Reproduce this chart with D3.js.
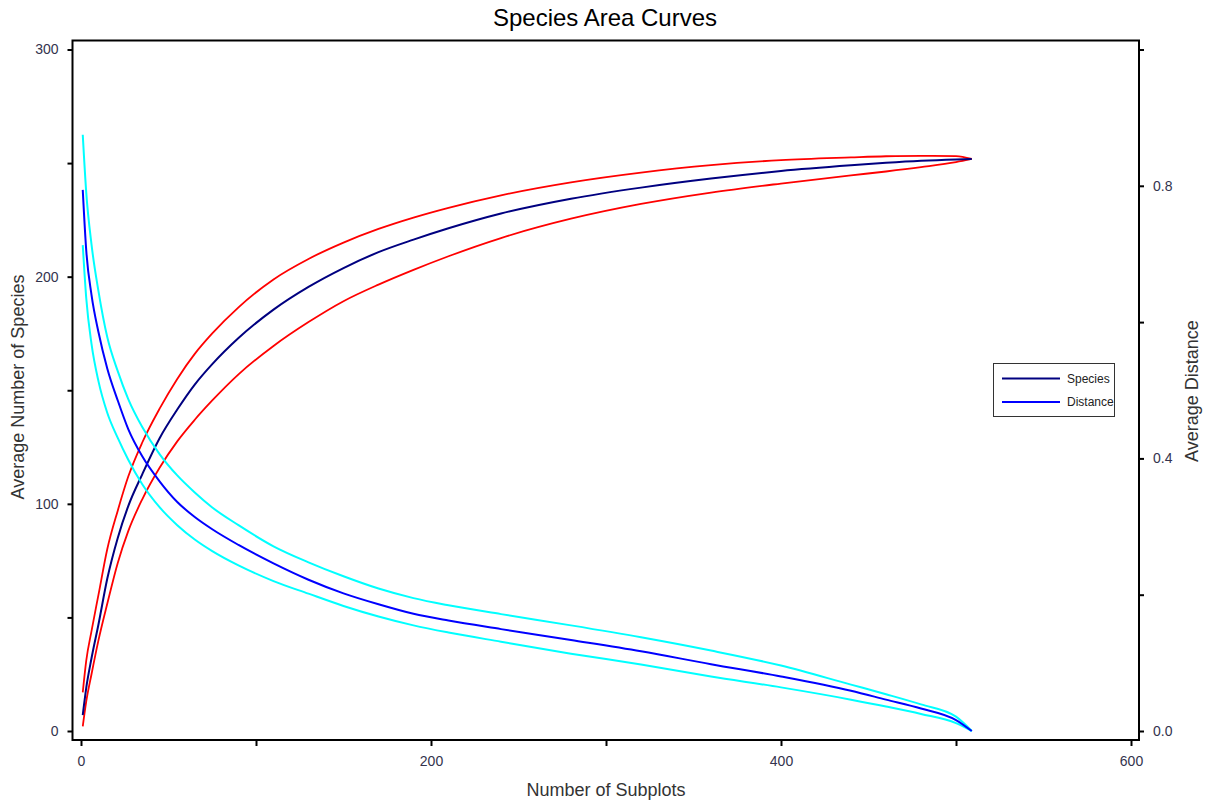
<!DOCTYPE html>
<html>
<head>
<meta charset="utf-8">
<script src="https://cdn.jsdelivr.net/npm/d3@7"></script>
<style>
  html, body { margin: 0; padding: 0; background: #fff; }
  svg { display: block; font-family: "Liberation Sans", Arial, sans-serif; }
  .tick text { fill: #33334d; font-size: 14px; }
  .axis-lbl { fill: #333; font-size: 18px; }
</style>
</head>
<body>
<svg id="chart" width="1209" height="801"></svg>
<script>
// ── Species area curves: mean +/- bounds, species (left axis) and distance (right axis)
const subplots = [1, 3, 6, 10, 15, 21, 27, 35, 45, 55, 65, 75, 90, 110, 130, 150, 170, 190, 210,
                  240, 280, 320, 360, 400, 440, 460, 480, 500, 509];

const speciesMean  = [7, 19, 32, 47, 67, 85, 99, 113, 129, 141.5, 152.5, 161.5, 173, 185.5, 195.5, 203.8,
                      210.8, 216.3, 221.3, 227.8, 234.3, 239.2, 243.2, 246.5, 249, 250.1, 251, 251.6, 251.8];
const speciesUpper = [17, 31, 44, 60, 80, 97, 112, 127, 142, 155, 166, 175, 186.5, 198.8, 207.8, 215,
                      221, 226, 230.3, 235.8, 241.5, 245.8, 249.1, 251.3, 252.5, 253, 253.2, 253.1, 251.8];
const speciesLower = [2, 13, 25, 40, 56, 74, 88, 102, 116, 127.5, 137, 145.5, 157, 169.5, 180, 189.2,
                      196.5, 203, 209, 217, 225.5, 232, 237, 241, 244.6, 246.3, 248.2, 250.4, 251.8];

const distMean  = [0.794, 0.705, 0.640, 0.585, 0.532, 0.485, 0.443, 0.403, 0.366, 0.336, 0.314, 0.296,
                   0.273, 0.246, 0.222, 0.202, 0.186, 0.172, 0.162, 0.1495, 0.1335, 0.117, 0.098, 0.080,
                   0.059, 0.046, 0.033, 0.016, 0.0];
const distUpper = [0.875, 0.790, 0.714, 0.645, 0.578, 0.528, 0.487, 0.446, 0.406, 0.375, 0.350, 0.328,
                   0.302, 0.271, 0.2475, 0.227, 0.209, 0.195, 0.1845, 0.1715, 0.155, 0.1375, 0.118, 0.096,
                   0.068, 0.054, 0.039, 0.021, 0.0];
const distLower = [0.713, 0.635, 0.568, 0.513, 0.467, 0.430, 0.398, 0.362, 0.328, 0.302, 0.281, 0.264,
                   0.243, 0.220, 0.2015, 0.1835, 0.168, 0.155, 0.1445, 0.131, 0.1135, 0.0975, 0.080, 0.064,
                   0.046, 0.036, 0.025, 0.0115, 0.0];

const xTicks      = [0, 100, 200, 300, 400, 500, 600];
const xLabels     = [0, 200, 400, 600];
const leftTicks   = [0, 50, 100, 150, 200, 250, 300];
const leftLabels  = [0, 100, 200, 300];
const rightTicks  = [0, 0.2, 0.4, 0.6, 0.8, 1.0];
const rightLabels = [0, 0.4, 0.8];

const legendItems = [["Species", "#000080"], ["Distance", "#0000ff"]];

// frame of the plot
const F = { left: 72.5, top: 40.5, right: 1139, bottom: 740 };

const svg = d3.select("#chart");

const x  = d3.scaleLinear().domain([0, 600]).range([81, 1131]);
const yL = d3.scaleLinear().domain([0, 300]).range([731, 49.5]);
const yR = d3.scaleLinear().domain([0, 1]).range([731, 49.5]);

// Title
svg.append("text")
  .attr("x", 605).attr("y", 26)
  .attr("text-anchor", "middle")
  .attr("font-size", "24px").attr("fill", "#000")
  .text("Species Area Curves");

// Axes
const axB = svg.append("g").attr("transform", `translate(0,${F.bottom})`)
  .call(d3.axisBottom(x).tickValues(xTicks).tickSize(6).tickPadding(10)
    .tickFormat(d => xLabels.includes(d) ? d : ""));
const axL = svg.append("g").attr("transform", `translate(${F.left},0)`)
  .call(d3.axisLeft(yL).tickValues(leftTicks).tickSize(5).tickPadding(9)
    .tickFormat(d => leftLabels.includes(d) ? d : ""));
const axR = svg.append("g").attr("transform", `translate(${F.right},0)`)
  .call(d3.axisRight(yR).tickValues(rightTicks).tickSize(5).tickPadding(9)
    .tickFormat(d => rightLabels.includes(d) ? d3.format(".1f")(d) : ""));

[axB, axL, axR].forEach(a => {
  a.attr("font-family", null).attr("font-size", null);
  a.select(".domain").remove();
  a.selectAll(".tick line").attr("stroke", "#000").attr("stroke-width", 2);
});

// Frame
svg.append("rect")
  .attr("x", F.left).attr("y", F.top)
  .attr("width", F.right - F.left).attr("height", F.bottom - F.top)
  .attr("fill", "none").attr("stroke", "#000").attr("stroke-width", 2);

// Axis labels
svg.append("text").attr("class", "axis-lbl")
  .attr("x", 606).attr("y", 796)
  .attr("text-anchor", "middle").text("Number of Subplots");
svg.append("text").attr("class", "axis-lbl")
  .attr("transform", "translate(24,387) rotate(-90)")
  .attr("text-anchor", "middle").text("Average Number of Species");
svg.append("text").attr("class", "axis-lbl")
  .attr("transform", "translate(1198,391) rotate(-90)")
  .attr("text-anchor", "middle").text("Average Distance");

// Lines
const lineL = d3.line().x((d, i) => x(subplots[i])).y(d => yL(d)).curve(d3.curveMonotoneX);
const lineR = d3.line().x((d, i) => x(subplots[i])).y(d => yR(d)).curve(d3.curveMonotoneX);

const series = [
  { vals: speciesUpper, line: lineL, color: "#ff0000", w: 1.8 },
  { vals: speciesLower, line: lineL, color: "#ff0000", w: 1.8 },
  { vals: speciesMean,  line: lineL, color: "#000080", w: 2 },
  { vals: distUpper,    line: lineR, color: "#00ffff", w: 2 },
  { vals: distLower,    line: lineR, color: "#00ffff", w: 2 },
  { vals: distMean,     line: lineR, color: "#0000ff", w: 2 },
];
series.forEach(s => {
  svg.append("path")
    .attr("d", s.line(s.vals))
    .attr("fill", "none")
    .attr("stroke", s.color)
    .attr("stroke-width", s.w);
});

// Legend
const leg = svg.append("g").attr("transform", "translate(993.5,363.5)");
leg.append("rect").attr("width", 121).attr("height", 53)
  .attr("fill", "#fff").attr("stroke", "#333").attr("stroke-width", 1);
legendItems.forEach(([lbl, col], i) => {
  const yy = 15 + i * 23.4;
  leg.append("line").attr("x1", 8.5).attr("x2", 66.5).attr("y1", yy).attr("y2", yy)
    .attr("stroke", col).attr("stroke-width", 2);
  leg.append("text").attr("x", 73.5).attr("y", yy).attr("dy", "0.35em")
    .attr("font-size", "12px").attr("fill", "#222").text(lbl);
});
</script>
</body>
</html>
